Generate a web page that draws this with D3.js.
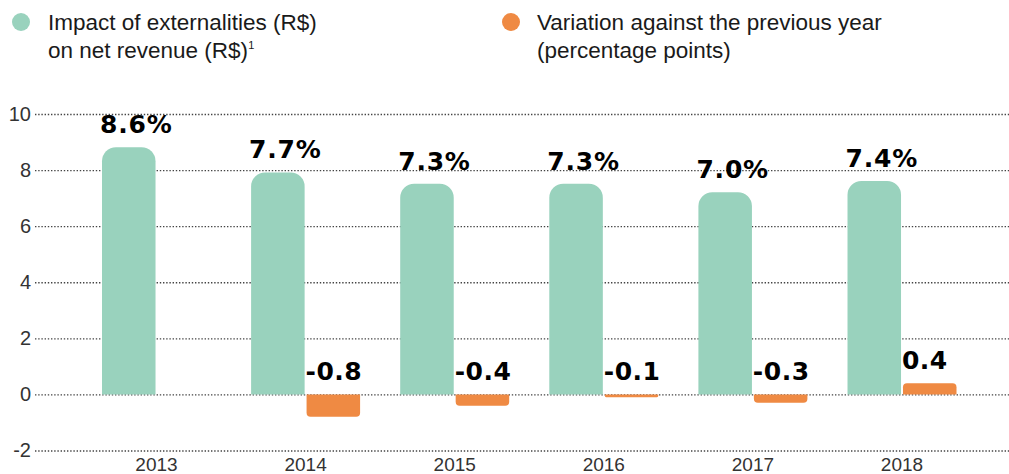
<!DOCTYPE html>
<html>
<head>
<meta charset="utf-8">
<script src="https://cdn.jsdelivr.net/npm/d3@7"></script>
<style>
  html, body { margin: 0; padding: 0; background: #fff; }
  svg { display: block; }
</style>
</head>
<body>
<svg id="chart" width="1009" height="474"></svg>
<script>
// ---- data ----
const years = ["2013", "2014", "2015", "2016", "2017", "2018"];
const impact = [8.6, 7.7, 7.3, 7.3, 7.0, 7.4];
const variation = [null, -0.8, -0.4, -0.1, -0.3, 0.4];
const impactLabels = ["8.6%", "7.7%", "7.3%", "7.3%", "7.0%", "7.4%"];
const variationLabels = [null, "-0.8", "-0.4", "-0.1", "-0.3", "0.4"];
const yTicks = [-2, 0, 2, 4, 6, 8, 10];
const seriesKeys = ["impact", "variation"];
const legendLines = [
  ["Impact of externalities (R$)", "on net revenue (R$)"],
  ["Variation against the previous year", "(percentage points)"]
];

// ---- style ----
const GREEN = "#99D2BD";
const ORANGE = "#EF8A43";
const W = 1009, H = 474;

const svg = d3.select("#chart");

const y = d3.scaleLinear().domain([-2, 10]).range([450.5, 114]);
const x0 = d3.scaleBand().domain(years).range([102, 956.5]).paddingInner(0.269).paddingOuter(0);
const x1 = d3.scaleBand().domain(seriesKeys).range([0, x0.bandwidth()]).paddingInner(0.035);

// ---- y axis + dotted grid ----
const yAxis = d3.axisLeft(y).tickValues(yTicks).tickSize(-(W - 35)).tickPadding(4)
  .tickFormat(d => String(d));
const gy = svg.append("g").attr("transform", "translate(35,0)").call(yAxis);
gy.select(".domain").remove();
gy.selectAll(".tick line")
  .attr("stroke", "#444").attr("stroke-width", 1.4).attr("stroke-dasharray", "1.4,1.8");
gy.selectAll(".tick text")
  .attr("font-family", "'Liberation Sans', Arial, sans-serif")
  .attr("font-size", 20).attr("fill", "#333");

// ---- x axis ----
const xAxis = d3.axisBottom(x0).tickSize(0).tickPadding(6);
const gx = svg.append("g").attr("transform", "translate(0,452)").call(xAxis);
gx.select(".domain").remove();
gx.selectAll(".tick text")
  .attr("font-family", "'Liberation Sans', Arial, sans-serif")
  .attr("font-size", 19).attr("fill", "#333");

const y0 = y(0);
const CAP = 6; // rounded cap overhang above value

// ---- green bars ----
const gBars = svg.append("g");
years.forEach((yr, i) => {
  const v = impact[i];
  const x = x0(yr) + x1("impact");
  const w = x1.bandwidth();
  const yt = y(v) - CAP;
  const r = 14;
  const path = `M${x},${y0}V${yt + r}A${r},${r} 0 0 1 ${x + r},${yt}H${x + w - r}A${r},${r} 0 0 1 ${x + w},${yt + r}V${y0}Z`;
  gBars.append("path").attr("d", path).attr("fill", GREEN);
  svg.append("text")
    .attr("x", x - 2).attr("y", y(v) - 20)
    .attr("font-family", "'DejaVu Sans', sans-serif").attr("font-weight", "bold")
    .attr("font-size", 25).attr("letter-spacing", 0.8).attr("fill", "#000")
    .text(impactLabels[i]);
});

// ---- orange bars ----
years.forEach((yr, i) => {
  const v = variation[i];
  if (v === null) return;
  const x = x0(yr) + x1("variation");
  const w = x1.bandwidth();
  const yv = y(v);
  const h = Math.abs(yv - y0);
  const r = Math.min(4, h / 2);
  let path;
  if (v < 0) {
    path = `M${x},${y0}V${yv - r}A${r},${r} 0 0 0 ${x + r},${yv}H${x + w - r}A${r},${r} 0 0 0 ${x + w},${yv - r}V${y0}Z`;
  } else {
    path = `M${x},${y0}V${yv + r}A${r},${r} 0 0 1 ${x + r},${yv}H${x + w - r}A${r},${r} 0 0 1 ${x + w},${yv + r}V${y0}Z`;
  }
  svg.append("path").attr("d", path).attr("fill", ORANGE);
  svg.append("text")
    .attr("x", x - 1).attr("y", Math.min(y0, yv) - 14)
    .attr("font-family", "'DejaVu Sans', sans-serif").attr("font-weight", "bold")
    .attr("font-size", 25).attr("letter-spacing", 0.5).attr("fill", "#000")
    .text(variationLabels[i]);
});

// ---- legend ----
const legendPos = [{ cx: 21, tx: 48, color: GREEN }, { cx: 511, tx: 537, color: ORANGE }];
legendLines.forEach((lines, k) => {
  const p = legendPos[k];
  svg.append("circle").attr("cx", p.cx).attr("cy", 22).attr("r", 9).attr("fill", p.color);
  const t = svg.append("text")
    .attr("font-family", "'Liberation Sans', Arial, sans-serif")
    .attr("font-size", 22.5).attr("fill", "#1a1a1a");
  t.append("tspan").attr("x", p.tx).attr("y", 30).text(lines[0]);
  t.append("tspan").attr("x", p.tx).attr("y", 58).text(lines[1]);
  if (k === 0) {
    t.append("tspan").attr("font-size", 11).attr("dy", -9).text("1");
  }
});
</script>
</body>
</html>
